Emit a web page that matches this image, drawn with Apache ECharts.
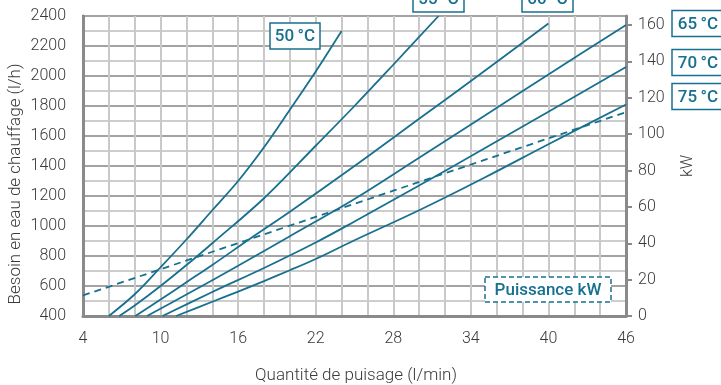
<!DOCTYPE html>
<html>
<head>
<meta charset="utf-8">
<script src="https://cdn.jsdelivr.net/npm/echarts@6/dist/echarts.min.js"></script>
<style>
  html, body { margin: 0; padding: 0; background: #ffffff; }
  #chart { width: 721px; height: 385px; }
</style>
</head>
<body>
<div id="chart"></div>
<script>
// Flow rate axis (l/min) and power axis (kW) tick values
const flowTicks = [4, 10, 16, 22, 28, 34, 40, 46];
const demandTicks = [400, 600, 800, 1000, 1200, 1400, 1600, 1800, 2000, 2200, 2400];
const kwTicks = [0, 20, 40, 60, 80, 100, 120, 140, 160];

// Heating water demand (l/h) against draw-off flow (l/min), one curve per flow temperature
const temp50 = [[6, 400], [8, 545], [10, 725], [12, 910], [14, 1105], [16, 1300], [18, 1525], [20, 1775], [22, 2030], [24, 2300]];
const temp55 = [[6.8, 400], [8, 470], [10, 600], [12.5, 775], [14, 885], [18, 1185], [22, 1535], [25, 1800], [28, 2075], [31.5, 2400]];
const temp60 = [[8.05, 400], [10, 510], [12, 625], [14, 740], [17, 920], [20, 1095], [25, 1400], [30, 1715], [35, 2030], [40, 2350]];
const temp65 = [[8.95, 400], [12, 543], [16, 735], [20, 932], [25, 1180], [30, 1455], [35, 1732], [40, 2010], [46, 2340]];
const temp70 = [[10.15, 400], [14, 560], [18, 720], [22, 890], [25, 1030], [30, 1270], [35, 1515], [40, 1762], [46, 2060]];
const temp75 = [[11.2, 400], [14, 495], [16, 563], [18, 633], [20, 705], [22, 780], [25, 905], [30, 1105], [35, 1320], [40, 1545], [46, 1810]];

// Heating power (kW) against draw-off flow, read on the right axis
const powerKw = [[4, 11.3], [10, 25.7], [16, 40.1], [22, 54.5], [28, 68.9], [34, 83.3], [40, 97.7], [46, 112.1]];

const teal = '#17708f';
const axisGray = '#8a8a8a';
const textGray = '#3a3a3a';
const labelFont = 'Roboto, "Noto Sans", sans-serif';

function curve(data) {
  return {
    type: 'line',
    data: data,
    xAxisIndex: 0,
    yAxisIndex: 0,
    showSymbol: false,
    smooth: 0.35,
    silent: true,
    lineStyle: { color: teal, width: 1.8 },
    z: 5
  };
}

// Boxed temperature / legend tag
function tag(text, x, y, w, h, dashed) {
  return {
    type: 'group',
    x: x,
    y: y,
    silent: true,
    children: [
      {
        type: 'rect',
        z: 100,
        shape: { x: 0, y: 0, width: w, height: h },
        style: { fill: '#ffffff', stroke: teal, lineWidth: 1.5, lineDash: dashed ? [5, 3] : null }
      },
      {
        type: 'text',
        z: 101,
        x: w / 2,
        y: h / 2 + 1,
        style: {
          text: text,
          fill: teal,
          font: '500 17px ' + labelFont,
          align: 'center',
          verticalAlign: 'middle'
        }
      }
    ]
  };
}

const plain = (v) => String(v);
const tickText = { color: textGray, fontSize: 16, fontWeight: 300, fontFamily: labelFont };

const chart = echarts.init(document.getElementById('chart'), null, { renderer: 'canvas' });

chart.setOption({
  animation: false,
  backgroundColor: '#ffffff',
  grid: { left: 83, right: 95, top: 16, bottom: 69 },
  xAxis: [
    {
      type: 'value',
      min: 4,
      max: 46,
      interval: 6,
      axisLine: { show: true, onZero: false, lineStyle: { color: axisGray, width: 3 } },
      axisTick: { show: false },
      axisLabel: Object.assign({ margin: 15, formatter: plain }, tickText),
      splitLine: { show: true, lineStyle: { color: '#c9c9c9', width: 2 } },
      minorTick: { show: false, splitNumber: 3 },
      minorSplitLine: { show: true, lineStyle: { color: '#c9c9c9', width: 2 } },
      z: 3
    },
    {
      type: 'value',
      position: 'top',
      min: 4,
      max: 46,
      axisLine: { show: true, onZero: false, lineStyle: { color: '#111', width: 2 } },
      axisTick: { show: false },
      axisLabel: { show: false },
      splitLine: { show: false }
    }
  ],
  yAxis: [
    {
      type: 'value',
      position: 'left',
      min: 400,
      max: 2400,
      interval: 200,
      axisLine: { show: true, onZero: false, lineStyle: { color: axisGray, width: 3 } },
      axisTick: { show: false },
      axisLabel: Object.assign({ margin: 17, formatter: plain }, tickText),
      splitLine: { show: true, lineStyle: { color: '#a3a3a3', width: 2 } },
      minorTick: { show: false, splitNumber: 2 },
      minorSplitLine: { show: true, lineStyle: { color: '#cdcdcd', width: 2 } },
      z: 3
    },
    {
      type: 'value',
      position: 'right',
      min: 0,
      max: 165,
      interval: 20,
      name: 'kW',
      nameLocation: 'middle',
      nameRotate: 90,
      nameGap: 54,
      nameTextStyle: tickText,
      axisLine: { show: true, onZero: false, lineStyle: { color: axisGray, width: 3 } },
      axisTick: { show: true, length: 6, customValues: kwTicks, lineStyle: { color: axisGray, width: 2 } },
      axisLabel: Object.assign({ margin: 12, customValues: kwTicks, formatter: plain }, tickText),
      splitLine: { show: false },
      z: 3
    }
  ],
  series: [
    curve(temp50),
    curve(temp55),
    curve(temp60),
    curve(temp65),
    curve(temp70),
    curve(temp75),
    {
      type: 'line',
      data: powerKw,
      xAxisIndex: 0,
      yAxisIndex: 1,
      showSymbol: false,
      silent: true,
      lineStyle: { color: teal, width: 1.8, type: [7, 5] },
      z: 6
    }
  ],
  graphic: [
    {
      type: 'text',
      x: 356,
      y: 376,
      silent: true,
      style: {
        text: 'Quantité de puisage (l/min)',
        fill: textGray,
        font: '300 17px ' + labelFont,
        align: 'center',
        verticalAlign: 'middle'
      }
    },
    {
      type: 'text',
      x: 16,
      y: 184,
      rotation: Math.PI / 2,
      silent: true,
      style: {
        text: 'Besoin en eau de chauffage (l/h)',
        fill: textGray,
        font: '300 17px ' + labelFont,
        align: 'center',
        verticalAlign: 'middle'
      }
    },
    tag('50\u2009°C', 270, 23, 50, 26, false),
    tag('55\u2009°C', 413, -14, 51, 26, false),
    tag('60\u2009°C', 522, -14, 51, 26, false),
    tag('65\u2009°C', 672, 10.5, 52, 26, false),
    tag('70\u2009°C', 672, 49.5, 52, 26, false),
    tag('75\u2009°C', 672, 83.5, 52, 26, false),
    tag('Puissance kW', 485, 277, 126, 25, true)
  ]
});
</script>
</body>
</html>
